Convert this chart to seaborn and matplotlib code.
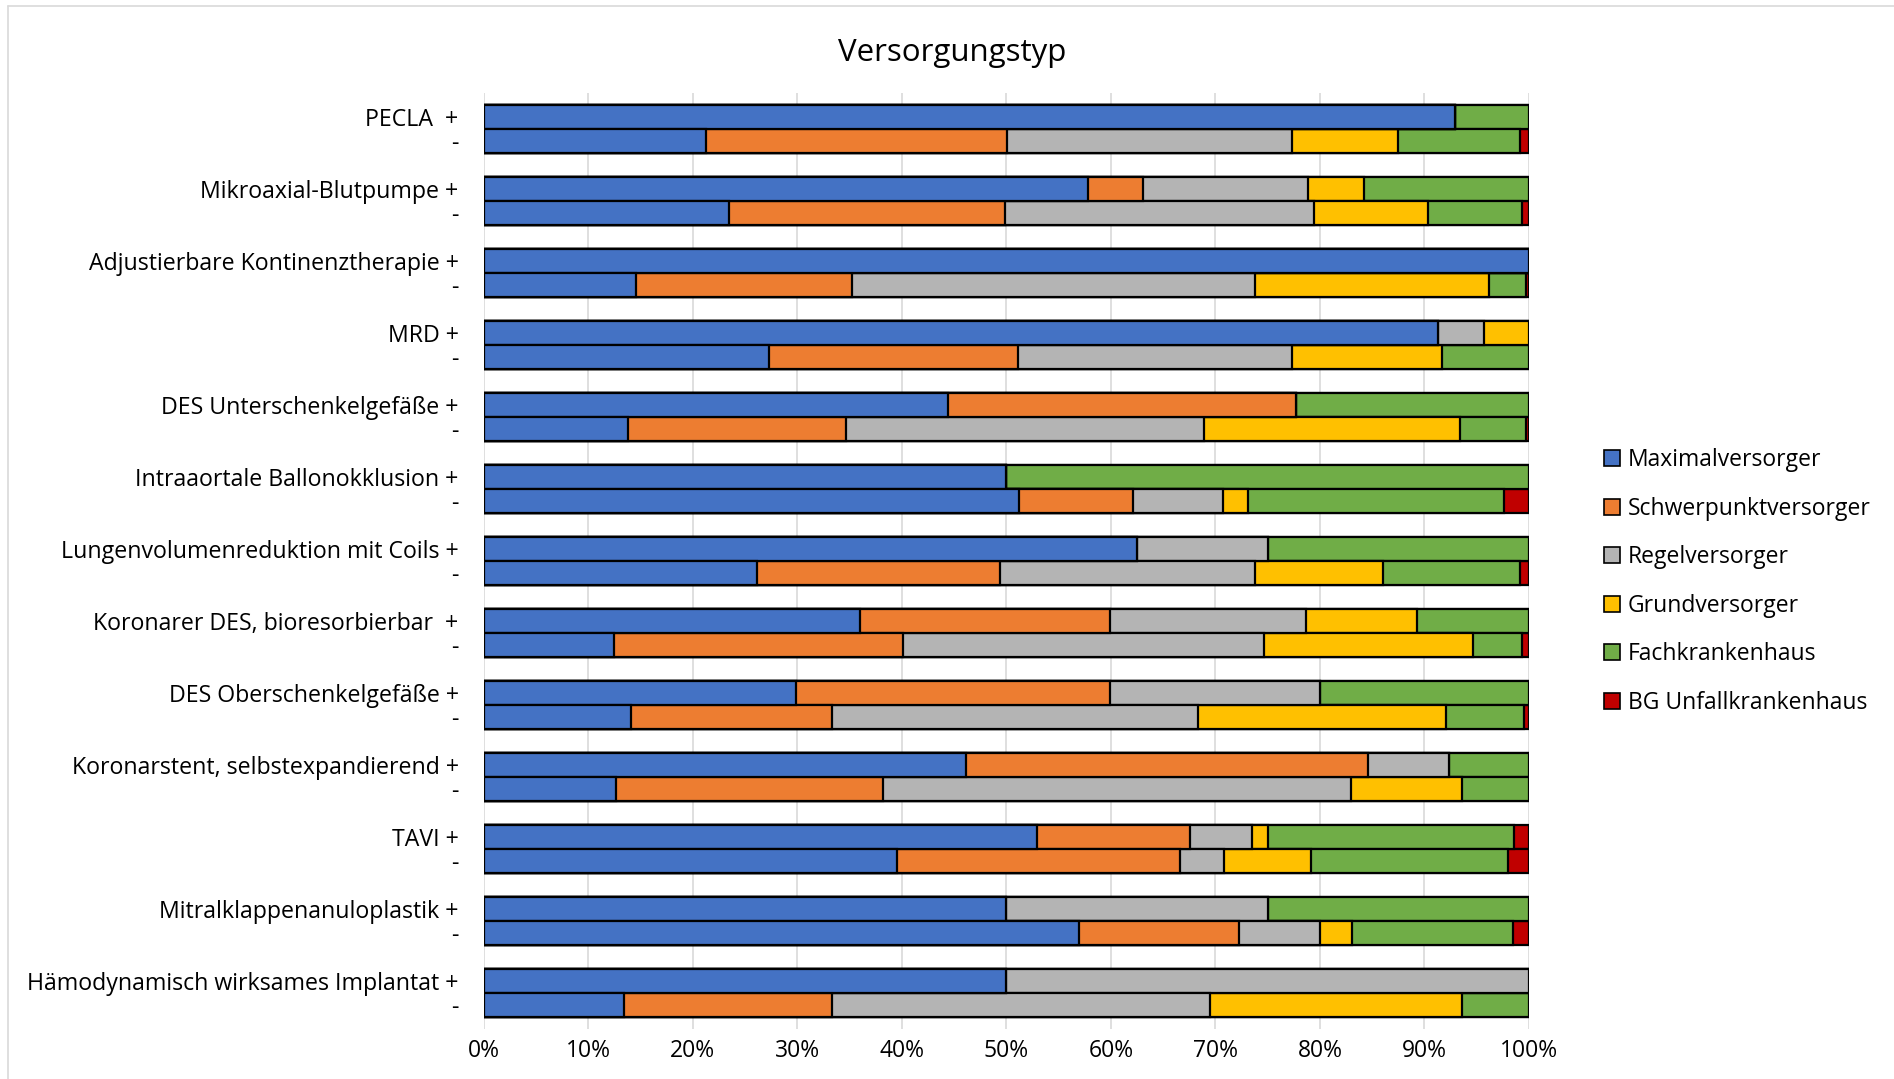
import numpy as np
import pandas as pd
import matplotlib
matplotlib.use("Agg")
import matplotlib.pyplot as plt
from matplotlib.patches import Patch
from matplotlib.lines import Line2D
import seaborn as sns

# Procedures (outer category), each shown with "+" and "-" rows
procedures = [
    "PECLA ",
    "Mikroaxial-Blutpumpe",
    "Adjustierbare Kontinenztherapie",
    "MRD",
    "DES Unterschenkelgefäße",
    "Intraaortale Ballonokklusion",
    "Lungenvolumenreduktion mit Coils",
    "Koronarer DES, bioresorbierbar ",
    "DES Oberschenkelgefäße",
    "Koronarstent, selbstexpandierend",
    "TAVI",
    "Mitralklappenanuloplastik",
    "Hämodynamisch wirksames Implantat",
]

types = ["Maximalversorger", "Schwerpunktversorger", "Regelversorger",
         "Grundversorger", "Fachkrankenhaus", "BG Unfallkrankenhaus"]

# Shares in percent, rows ordered (+, -) per procedure
maximal = [92.9, 21.3, 57.8, 23.5, 100.0, 14.6, 91.3, 27.3, 44.4, 13.8, 50.0, 51.2, 62.5,
           26.1, 36.0, 12.5, 29.9, 14.1, 46.1, 12.7, 52.9, 39.5, 50.0, 56.9, 50.0, 13.4]
schwerpunkt = [0.0, 28.8, 5.3, 26.4, 0.0, 20.6, 0.0, 23.8, 33.3, 20.9, 0.0, 10.9, 0.0,
               23.3, 23.9, 27.6, 30.0, 19.2, 38.5, 25.5, 14.7, 27.1, 0.0, 15.4, 0.0, 19.9]
regel = [0.0, 27.2, 15.8, 29.5, 0.0, 38.6, 4.4, 26.2, 0.0, 34.2, 0.0, 8.6, 12.5,
         24.4, 18.8, 34.5, 20.1, 35.0, 7.7, 44.8, 5.9, 4.2, 25.0, 7.7, 50.0, 36.2]
grund = [0.0, 10.2, 5.3, 10.9, 0.0, 22.4, 4.3, 14.4, 0.0, 24.5, 0.0, 2.4, 0.0,
         12.2, 10.6, 20.0, 0.0, 23.8, 0.0, 10.6, 1.5, 8.3, 0.0, 3.1, 0.0, 24.1]
fach = [7.1, 11.6, 15.8, 9.0, 0.0, 3.5, 0.0, 8.3, 22.3, 6.3, 50.0, 24.5, 25.0,
        13.1, 10.7, 4.7, 20.0, 7.4, 7.7, 6.4, 23.6, 18.9, 25.0, 15.4, 0.0, 6.4]
bg = [0.0, 0.9, 0.0, 0.7, 0.0, 0.3, 0.0, 0.0, 0.0, 0.3, 0.0, 2.4, 0.0,
      0.9, 0.0, 0.7, 0.0, 0.5, 0.0, 0.0, 1.4, 2.0, 0.0, 1.5, 0.0, 0.0]

colors = ["#4472C4", "#ED7D31", "#B4B4B4", "#FFC000", "#70AD47", "#C00000"]

xticks = [0, 10, 20, 30, 40, 50, 60, 70, 80, 90, 100]
xticklabels = [f"{t}%" for t in xticks]

series = np.array([maximal, schwerpunkt, regel, grund, fach, bg])
cum = np.cumsum(series, axis=0)

# row positions: "+" above "-" inside each procedure band
ypos = []
ylabels = []
for i, name in enumerate(procedures):
    ypos += [i - 1 / 6, i + 1 / 6]
    ylabels += [f"{name} +", "-"]
ypos = np.array(ypos)

sns.set_theme(style="white")
plt.rcParams["font.family"] = ["Open Sans", "DejaVu Sans"]
plt.rcParams["text.color"] = "black"
plt.rcParams["xtick.color"] = "black"
plt.rcParams["ytick.color"] = "black"

fig = plt.figure(figsize=(18.94, 10.79), dpi=100)
ax = fig.add_axes([0.2554, 0.0463, 0.5519, 0.8675])

# stacked bars: draw cumulative totals from the last segment backwards
for k in range(len(types) - 1, -1, -1):
    df = pd.DataFrame({"value": cum[k], "pos": ypos})
    sns.barplot(data=df, x="value", y="pos", orient="y", native_scale=True,
                color=colors[k], saturation=1, edgecolor="black", linewidth=1.6,
                width=1.0, errorbar=None, ax=ax)

ax.set_xlim(0, 100)
ax.set_ylim(len(procedures) - 0.5, -0.5)
ax.set_xticks(xticks)
ax.set_xticklabels(xticklabels, fontsize=16.5)
ax.set_yticks(ypos)
ax.set_yticklabels(ylabels, fontsize=16.7)
ax.set_xlabel("")
ax.set_ylabel("")
ax.tick_params(axis="y", length=0, pad=18)
ax.tick_params(axis="x", length=0, pad=7)
ax.xaxis.grid(True, color="#d9d9d9", linewidth=1.2)
ax.yaxis.grid(False)
ax.set_axisbelow(True)
for s in ax.spines.values():
    s.set_visible(False)

fig.text(0.5026, 0.951, "Versorgungstyp", ha="center", va="center", fontsize=22.5)

handles = [Patch(facecolor=c, edgecolor="black", linewidth=1.2) for c in colors]
fig.legend(handles, types, loc="center left", bbox_to_anchor=(0.836, 0.461),
           frameon=False, fontsize=16.5, handlelength=0.7, handleheight=0.7,
           handletextpad=0.35, labelspacing=1.07)

# light chart-area border
fig.add_artist(Line2D([0.0042, 0.0042], [0, 0.9944], color="#d9d9d9", lw=1.2))
fig.add_artist(Line2D([0.0042, 1], [0.9944, 0.9944], color="#d9d9d9", lw=1.2))

fig.savefig("out.png", dpi=100)
